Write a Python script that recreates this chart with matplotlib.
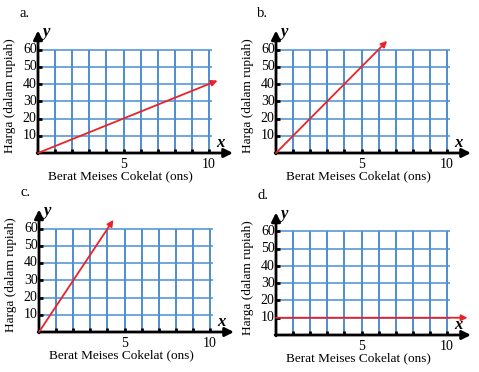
import matplotlib
matplotlib.use("Agg")
import matplotlib.pyplot as plt

plt.rcParams["font.family"] = ["Liberation Serif", "DejaVu Serif"]

W, H = 479, 372

panel_letters = ["a.", "b.", "c.", "d."]
# origin of each panel, pixels from top-left of the figure
origins = [(38, 153), (276, 153), (39, 332), (276, 335)]
SX, SY = 17.1, 1.725  # pixels per x unit, per y unit

x_grid = [1, 2, 3, 4, 5, 6, 7, 8, 9, 10]
y_grid = [10, 20, 30, 40, 50, 60]
y_ticklabels = ["10", "20", "30", "40", "50", "60"]
x_ticks = [5, 10]
x_ticklabels = ["5", "10"]

# red lines: start and arrow tip
line_x = [[0, 10.5], [0, 6.5], [0, 4.35], [0, 11.2]]
line_y = [[0, 42], [0, 65], [0, 65], [10, 10]]

xlab = "Berat Meises Cokelat (ons)"
ylab = "Harga (dalam rupiah)"

GRID_V = "#1f6fc4"
GRID_H = "#4a90d4"
RED = "#e8232a"

fig = plt.figure(figsize=(W / 100, H / 100), dpi=100, facecolor="white")

XL = (-2.5, 12.8)
YL = (-22, 76)

for letter, (ox, oy), lx, ly in zip(panel_letters, origins, line_x, line_y):
    left = ox + XL[0] * SX
    width = (XL[1] - XL[0]) * SX
    bottom = oy - YL[0] * SY  # pixels from top
    height = (YL[1] - YL[0]) * SY
    ax = fig.add_axes([left / W, 1 - bottom / H, width / W, height / H])
    ax.set_xlim(*XL)
    ax.set_ylim(*YL)
    ax.axis("off")
    ax.patch.set_alpha(0)

    ax.vlines(x_grid, 0, 60, color=GRID_V, lw=1.1, zorder=1)
    ax.hlines(y_grid, 0, 10.2, color=GRID_H, lw=1.1, zorder=1)

    # axes with arrows
    ax.annotate("", xy=(11.4, 0), xytext=(-0.05, 0),
                arrowprops=dict(arrowstyle="-|>", color="black", lw=2.0,
                                mutation_scale=13, shrinkA=0, shrinkB=0), zorder=3)
    ax.annotate("", xy=(0, 71), xytext=(0, -0.5),
                arrowprops=dict(arrowstyle="-|>", color="black", lw=2.0,
                                mutation_scale=13, shrinkA=0, shrinkB=0), zorder=3)

    # tick marks
    ax.vlines(x_grid, 0, 2.6, color="black", lw=2.0, zorder=3)
    ax.hlines(y_grid, 0, 0.25, color="black", lw=2.0, zorder=3)

    for v, t in zip(y_grid, y_ticklabels):
        ax.text(-0.08, v, t, ha="right", va="center", fontsize=10, zorder=4)
    for v, t in zip(x_ticks, x_ticklabels):
        ax.text(v, -6.5, t, ha="center", va="center", fontsize=10)

    ax.text(0.3, 70, "y", ha="left", va="center", fontsize=12,
            style="italic", fontweight="bold")
    ax.text(10.65, 6, "x", ha="center", va="center", fontsize=12,
            style="italic", fontweight="bold", zorder=4)

    ax.text(-28 / SX, 57 / SY, ylab, rotation=90, ha="center", va="center",
            fontsize=9.5)
    ax.text(82 / SX, -23 / SY, xlab, ha="center", va="center", fontsize=9.5)
    ax.text(-1.1, 81, letter, ha="left", va="center", fontsize=10.5,
            clip_on=False)

    # red graph line
    ax.annotate("", xy=(lx[1], ly[1]), xytext=(lx[0], ly[0]),
                arrowprops=dict(arrowstyle="-|>", color=RED, lw=1.3,
                                mutation_scale=9, shrinkA=0, shrinkB=0), zorder=5)

fig.savefig("out.png", dpi=100, facecolor="white")
plt.close(fig)
